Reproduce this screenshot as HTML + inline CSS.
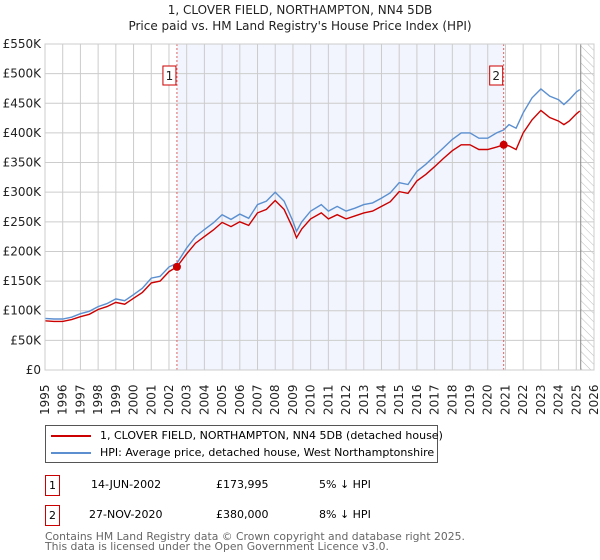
<!DOCTYPE html>
<html><head><meta charset="utf-8"><style>
body{margin:0;background:#fff;font-family:"DejaVu Sans","Liberation Sans",sans-serif;}
#wrap{position:relative;width:600px;height:560px;overflow:hidden;}
svg text{font-family:"DejaVu Sans","Liberation Sans",sans-serif;}
</style></head><body>
<div id="wrap">
<svg id="chart" width="600" height="560">
<defs><pattern id="hatch" width="6" height="6" patternUnits="userSpaceOnUse" patternTransform="rotate(-45)"><line x1="0" y1="0" x2="0" y2="6" stroke="#bbb" stroke-width="1"/></pattern></defs>
<text x="300" y="14" text-anchor="middle" font-size="12" fill="#222">1, CLOVER FIELD, NORTHAMPTON, NN4 5DB</text>
<text x="300" y="30" text-anchor="middle" font-size="12" fill="#222">Price paid vs. HM Land Registry's House Price Index (HPI)</text>
<g id="grid"></g><g id="series"></g><g id="axes"></g>
</svg>
<div style="position:absolute;left:45px;top:425px;width:391px;height:36px;border:1px solid #555;font-size:11px;color:#000;">
 <div style="position:absolute;left:5px;top:3px;white-space:nowrap"><span style="display:inline-block;width:40px;height:2px;background:#cc0000;vertical-align:middle;margin-right:9px"></span>1, CLOVER FIELD, NORTHAMPTON, NN4 5DB (detached house)</div>
 <div style="position:absolute;left:5px;top:20px;white-space:nowrap"><span style="display:inline-block;width:40px;height:2px;background:#5b8fd0;vertical-align:middle;margin-right:9px"></span>HPI: Average price, detached house, West Northamptonshire</div>
</div>
<div style="font-size:11px;color:#000">
 <div style="position:absolute;left:45px;top:475px;width:13px;height:19px;border:1px solid #cc0000;text-align:center;line-height:19px">1</div>
 <div style="position:absolute;left:91px;top:478px">14-JUN-2002</div>
 <div style="position:absolute;left:216px;top:478px">£173,995</div>
 <div style="position:absolute;left:319px;top:478px">5% ↓ HPI</div>
 <div style="position:absolute;left:45px;top:505px;width:13px;height:19px;border:1px solid #cc0000;text-align:center;line-height:19px">2</div>
 <div style="position:absolute;left:89px;top:508px">27-NOV-2020</div>
 <div style="position:absolute;left:216px;top:508px">£380,000</div>
 <div style="position:absolute;left:319px;top:508px">8% ↓ HPI</div>
</div>
<div style="position:absolute;left:45px;top:532px;font-size:10.8px;line-height:10px;color:#666;white-space:nowrap">Contains HM Land Registry data © Crown copyright and database right 2025.<br>This data is licensed under the Open Government Licence v3.0.</div>
</div>
<script>
const years=[1995,1995.5,1996,1996.5,1997,1997.5,1998,1998.5,1999,1999.5,2000,2000.5,2001,2001.5,2002,2002.45,2003,2003.5,2004,2004.5,2005,2005.5,2006,2006.5,2007,2007.5,2008,2008.5,2009,2009.2,2009.5,2010,2010.6,2011,2011.5,2012,2012.5,2013,2013.5,2014,2014.5,2015,2015.5,2016,2016.5,2017,2017.5,2018,2018.5,2019,2019.5,2020,2020.5,2020.9,2021.2,2021.6,2022,2022.5,2023,2023.5,2024,2024.3,2024.6,2025,2025.2];
const hpi=[87,86,86,89,95,99,107,112,120,117,127,138,155,158,174,180,206,225,237,248,262,254,263,256,279,285,300,285,251,234,250,268,279,268,276,268,273,279,282,290,299,316,313,335,347,361,375,389,400,400,391,391,400,405,414,408,434,459,474,462,456,448,456,469,473];
const paid=[83,82,82,85,90,94,102,107,114,111,121,131,147,150,166,174,196,214,225,236,249,242,250,244,265,271,286,271,239,223,238,255,265,255,262,255,260,265,268,276,284,301,298,319,330,343,357,370,380,380,372,372,376,380,378,372,400,422,438,426,420,414,420,432,437];
const sales=[[2002.45,173.995],[2020.9,380]];
const yTicks=[0,50,100,150,200,250,300,350,400,450,500,550];
const xTicks=[1995,1996,1997,1998,1999,2000,2001,2002,2003,2004,2005,2006,2007,2008,2009,2010,2011,2012,2013,2014,2015,2016,2017,2018,2019,2020,2021,2022,2023,2024,2025,2026];
const L=45,R=594,T=44,B=370,X0=1995,X1=2026,YMAX=550,FUT=2025.25;
const X=v=>L+(v-X0)/(X1-X0)*(R-L), Y=v=>B-v/YMAX*(B-T);
const NS='http://www.w3.org/2000/svg';
function mk(p,t,a){const e=document.createElementNS(NS,t);for(const k in a)e.setAttribute(k,a[k]);p.appendChild(e);return e;}
const g=document.getElementById('grid'),s=document.getElementById('series'),ax=document.getElementById('axes');
const sh=mk(g,'rect',{x:X(sales[0][0]),y:T,width:X(sales[1][0])-X(sales[0][0]),height:B-T,fill:'#f2f5fd'});


const ht=mk(g,'rect',{x:X(FUT),y:T,width:R-X(FUT),height:B-T,fill:'url(#hatch)'});


xTicks.forEach(v=>{const l=mk(g,'line',{x1:X(v),x2:X(v),y1:T,y2:B,stroke:'#ccc','stroke-width':1});


const t=mk(ax,'text',{x:0,y:0,transform:`translate(${X(v)+4},${B+45}) rotate(-90)`,'font-size':12,fill:'#222'});t.textContent=v;

});
yTicks.forEach(v=>{const l=mk(g,'line',{x1:L,x2:R,y1:Y(v),y2:Y(v),stroke:'#ccc','stroke-width':1});


const t=mk(ax,'text',{x:L-4,y:Y(v)+4,'text-anchor':'end','font-size':12,fill:'#222'});t.textContent=v===0?'£0':'£'+v+'K';

});
const fl=mk(g,'line',{x1:X(FUT),x2:X(FUT),y1:T,y2:B,stroke:'#888','stroke-width':1});


const pts=a=>a.map((v,i)=>X(years[i]).toFixed(1)+','+Y(v).toFixed(1)).join(' ');
const hl=mk(s,'polyline',{points:pts(hpi),fill:'none',stroke:'#5b8fd0','stroke-width':1.4});


const pl=mk(s,'polyline',{points:pts(paid),fill:'none',stroke:'#cc0000','stroke-width':1.4});


sales.forEach((d,i)=>{
const vl=mk(s,'line',{x1:X(d[0]),x2:X(d[0]),y1:T,y2:B,stroke:'#e06060','stroke-width':1,'stroke-dasharray':'2,2'});


const c=mk(s,'circle',{cx:X(d[0]),cy:Y(d[1]),r:4,fill:'#cc0000'});


const b=mk(s,'rect',{x:X(d[0])-14,y:66,width:13,height:19,fill:'#fff',stroke:'#cc0000'});


const t=mk(s,'text',{x:X(d[0])-7.5,y:80,'text-anchor':'middle','font-size':12,fill:'#222'});t.textContent=i+1;

});
const fr=mk(ax,'rect',{x:L,y:T,width:R-L,height:B-T,fill:'none',stroke:'#ccc'});


</script>
</body></html>
